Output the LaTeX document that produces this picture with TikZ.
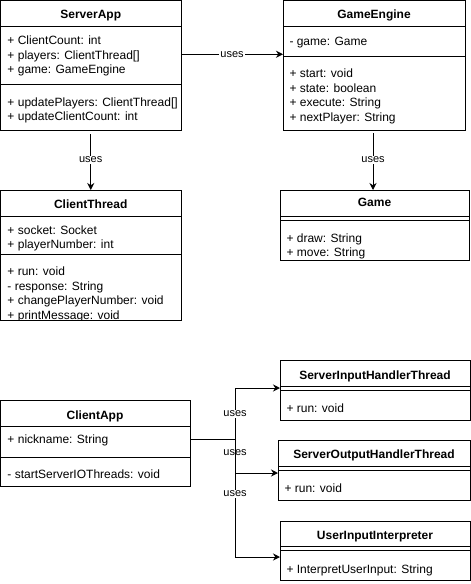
\documentclass[tikz,border=0pt]{standalone}
\usepackage{fontspec}
\setmainfont{Liberation Sans}
\usetikzlibrary{arrows.meta}
\newcommand\umltext[4]{\node[txt] (#1) at (#2,#3) {#4};}
\newcommand\umltitle[4]{\node[ttl] (#1) at (#2,#3) {#4};}
\begin{document}
\begin{tikzpicture}[x=1pt,y=-1pt,line width=1pt,
  classbox/.style={draw,anchor=north west,inner sep=0pt,outer sep=0pt},
  txt/.style={anchor=base west,inner sep=0pt,font=\fontsize{12}{14}\selectfont},
  ttl/.style={anchor=base,inner sep=0pt,font=\fontsize{12}{14}\selectfont\bfseries},
  lbl/.style={fill=white,inner sep=1pt,font=\fontsize{11}{13}\selectfont},
  arr/.style={-{Stealth[length=7pt,width=7pt]}}]
\useasboundingbox (0,0) rectangle (471,584);
\fill[white] (0,0) rectangle (471,584);

% ServerApp
\node[classbox,minimum width=180.5,minimum height=129.5] (serverapp) at (0.5,0.5) {};
\umltitle{sat}{90.75}{18}{ServerApp}
\draw (0.5,26) -- (181,26);
\draw (0.5,84) -- (181,84);
\umltext{sa1}{7}{44.5}{+ ClientCount: int}
\umltext{sa2}{7}{59}{+ players: ClientThread[]}
\umltext{sa3}{7}{73.5}{+ game: GameEngine}
\umltext{sa4}{7}{106}{+ updatePlayers: ClientThread[]}
\umltext{sa5}{7}{120.5}{+ updateClientCount: int}

% GameEngine
\node[classbox,minimum width=182,minimum height=129.5] (gameengine) at (283,0.5) {};
\umltitle{get}{374}{18}{GameEngine}
\draw (283,26) -- (465,26);
\draw (283,56) -- (465,56);
\umltext{ge1}{289}{45}{- game: Game}
\umltext{ge2}{289}{77}{+ start: void}
\umltext{ge3}{289}{92}{+ state: boolean}
\umltext{ge4}{289}{106.5}{+ execute: String}
\umltext{ge5}{289}{121}{+ nextPlayer: String}

% Game
\node[classbox,minimum width=189,minimum height=70] (game) at (280,190) {};
\umltitle{gt}{374.5}{206.5}{Game}
\draw (280,216) -- (469,216);
\draw (280,220) -- (469,220);
\umltext{g1}{286}{242.5}{+ draw: String}
\umltext{g2}{286}{256}{+ move: String}

% ClientThread
\umltext{ct1}{7}{234}{+ socket: Socket}
\umltext{ct2}{7}{248}{+ playerNumber: int}
\umltext{ct3}{7}{275}{+ run: void}
\umltext{ct4}{7}{290}{- response: String}
\umltext{ct5}{7}{304.5}{+ changePlayerNumber: void}
\umltext{ct6}{7}{319}{+ printMessage: void}
\fill[white] (0,320.5) rectangle (190,326);
\node[classbox,minimum width=180.5,minimum height=130] (clientthread) at (0.5,190) {};
\umltitle{ctt}{90.75}{208.5}{ClientThread}
\draw (0.5,216) -- (181,216);
\draw (0.5,254) -- (181,254);

% ClientApp
\node[classbox,minimum width=189.5,minimum height=86] (clientapp) at (0.5,400) {};
\umltitle{cat}{95}{419}{ClientApp}
\draw (0.5,426) -- (190,426);
\draw (0.5,457) -- (190,457);
\umltext{ca1}{7}{443.5}{+ nickname: String}
\umltext{ca2}{7}{478.5}{- startServerIOThreads: void}

% ServerInputHandlerThread
\node[classbox,minimum width=190,minimum height=60] (siht) at (280,360) {};
\umltitle{sihtt}{375}{379}{ServerInputHandlerThread}
\draw (280,386) -- (470,386);
\draw (280,390) -- (470,390);
\umltext{siht1}{286}{412}{+ run: void}

% ServerOutputHandlerThread
\node[classbox,minimum width=192,minimum height=60] (soht) at (278,440) {};
\umltitle{sohtt}{374}{458}{ServerOutputHandlerThread}
\draw (278,466) -- (470,466);
\draw (278,470) -- (470,470);
\umltext{soht1}{284}{492}{+ run: void}

% UserInputInterpreter
\node[classbox,minimum width=190,minimum height=59] (uii) at (280,521) {};
\umltitle{uiit}{375}{539}{UserInputInterpreter}
\draw (280,546) -- (470,546);
\draw (280,550) -- (470,550);
\umltext{uii1}{286}{573}{+ InterpretUserInput: String}

% connectors
\draw[arr] ([yshift=11pt]serverapp.east) -- node[lbl] (u1) {uses} ([yshift=11pt]gameengine.west);
\draw[arr,shorten <=4pt] (serverapp.south) -- node[lbl] (u2) {uses} (clientthread.north);
\draw[arr,shorten <=3pt] ([xshift=-1pt]gameengine.south) -- node[lbl] (u3) {uses} ([xshift=-1.5pt]game.north);

\coordinate (j1) at (235,439);
\draw[arr] ([yshift=4pt]clientapp.east) -- (j1) |- ([yshift=2pt]siht.west);
\draw[arr] (j1) |- ([yshift=-3pt]soht.west);
\draw[arr] (j1) |- ([yshift=-6.5pt]uii.west);
\node[lbl] (u4) at (235,414) {uses};
\node[lbl,fill=none] (u5) at (235,453) {uses};
\node[lbl] (u6) at (235,494) {uses};
\end{tikzpicture}
\end{document}
